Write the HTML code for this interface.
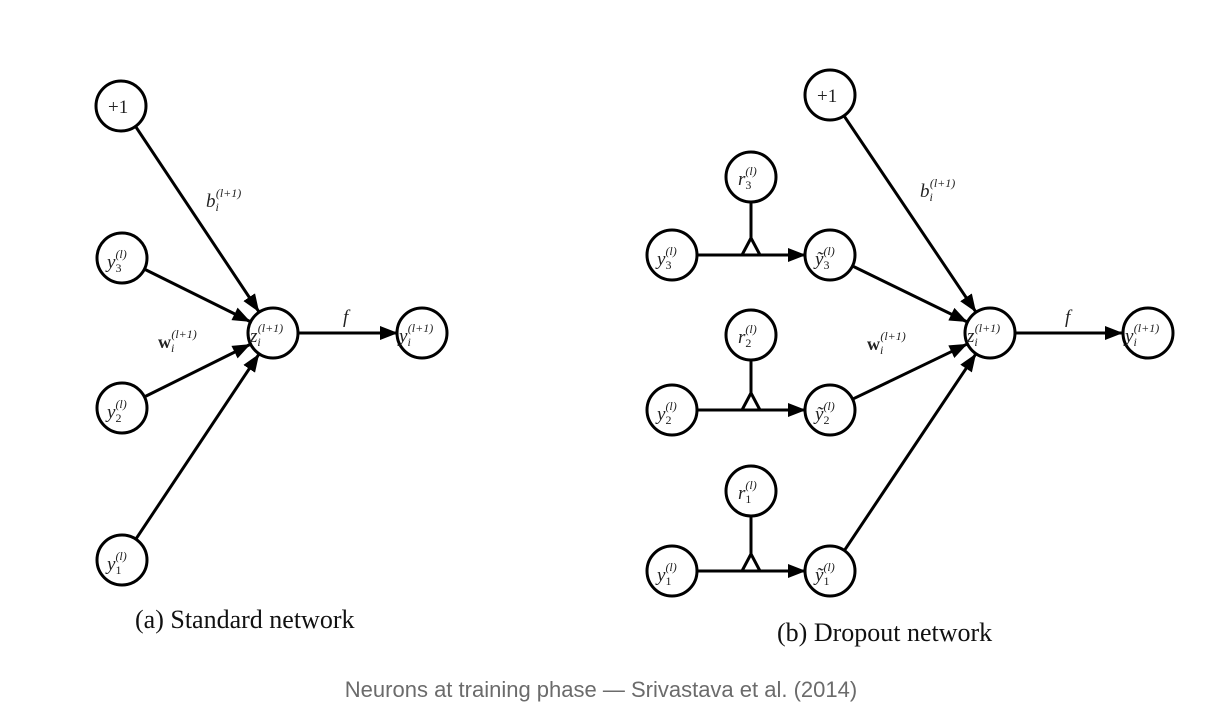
<!DOCTYPE html>
<html><head><meta charset="utf-8"><style>
html,body{margin:0;padding:0;background:#fff;}
svg{display:block;}
.n{fill:#fff;stroke:#000;stroke-width:3;}
.l{stroke:#000;stroke-width:3;fill:none;}
.m{font-family:"Liberation Serif",serif;font-style:italic;fill:#222;}
.cap{font-family:"Liberation Serif",serif;font-size:26px;fill:#111;}
</style></head><body>
<svg width="1216" height="724" viewBox="0 0 1216 724" xmlns="http://www.w3.org/2000/svg">
<defs>
<marker id="a" markerUnits="userSpaceOnUse" markerWidth="18" markerHeight="14" refX="17" refY="7" orient="auto">
<path d="M0,0 L18,7 L0,14 Z" fill="#000"/>
</marker>
</defs>
<!-- Left diagram edges -->
<line class="l" x1="135.8" y1="126.8" x2="258.6" y2="311.3" marker-end="url(#a)"/>
<line class="l" x1="144.4" y1="269.1" x2="249.7" y2="321.4" marker-end="url(#a)"/>
<line class="l" x1="144.4" y1="396.9" x2="249.7" y2="344.6" marker-end="url(#a)"/>
<line class="l" x1="135.8" y1="539.2" x2="258.6" y2="354.7" marker-end="url(#a)"/>
<line class="l" x1="298" y1="333" x2="397" y2="333" marker-end="url(#a)"/>
<circle class="n" cx="121" cy="106" r="25"/>
<circle class="n" cx="122" cy="258" r="25"/>
<circle class="n" cx="122" cy="408" r="25"/>
<circle class="n" cx="122" cy="560" r="25"/>
<circle class="n" cx="273" cy="333" r="25"/>
<circle class="n" cx="422" cy="333" r="25"/>
<text x="108" y="113" font-family="Liberation Serif,serif" font-size="19" fill="#222">+1</text>
<text class="m" x="107" y="268" font-size="19">y<tspan font-size="12" dy="4" font-style="normal">3</tspan><tspan font-size="12" dx="-6" dy="-14">(l)</tspan></text>
<text class="m" x="107" y="418" font-size="19">y<tspan font-size="12" dy="4" font-style="normal">2</tspan><tspan font-size="12" dx="-6" dy="-14">(l)</tspan></text>
<text class="m" x="107" y="570" font-size="19">y<tspan font-size="12" dy="4" font-style="normal">1</tspan><tspan font-size="12" dx="-6" dy="-14">(l)</tspan></text>
<text class="m" x="250" y="342" font-size="19">z<tspan font-size="12" dy="4">i</tspan><tspan font-size="12" dx="-3" dy="-14">(l+1)</tspan></text>
<text class="m" x="399" y="342" font-size="19">y<tspan font-size="12" dy="4">i</tspan><tspan font-size="12" dx="-3" dy="-14">(l+1)</tspan></text>
<text class="m" x="206" y="207" font-size="19">b<tspan font-size="12" dy="4">i</tspan><tspan font-size="12" dx="-3" dy="-14">(l+1)</tspan></text>
<text class="m" x="343" y="323" font-size="19">f</text>
<text x="158" y="348" font-family="Liberation Serif,serif" font-weight="bold" font-size="18" fill="#222">w<tspan font-size="12" font-weight="normal" font-style="italic" dy="4">i</tspan><tspan font-size="12" font-weight="normal" font-style="italic" dx="-3" dy="-14">(l+1)</tspan></text>
<text class="cap" x="135" y="628">(a) Standard network</text>

<!-- Right diagram -->
<line class="l" x1="844" y1="115.8" x2="975.5" y2="311.4" marker-end="url(#a)"/>
<line class="l" x1="852.5" y1="266" x2="966.6" y2="321.6" marker-end="url(#a)"/>
<line class="l" x1="852.5" y1="399.2" x2="966.6" y2="344.3" marker-end="url(#a)"/>
<line class="l" x1="843.9" y1="551.2" x2="975.5" y2="354.4" marker-end="url(#a)"/>
<line class="l" x1="1015" y1="333" x2="1122" y2="333" marker-end="url(#a)"/>
<!-- rows -->
<g>
<line class="l" x1="697" y1="255" x2="805" y2="255" marker-end="url(#a)"/>
<line class="l" x1="751" y1="202" x2="751" y2="238"/>
<path class="l" d="M742,255 L751,238 L760,255"/>
<line class="l" x1="697" y1="410" x2="805" y2="410" marker-end="url(#a)"/>
<line class="l" x1="751" y1="360" x2="751" y2="393"/>
<path class="l" d="M742,410 L751,393 L760,410"/>
<line class="l" x1="697" y1="571" x2="805" y2="571" marker-end="url(#a)"/>
<line class="l" x1="751" y1="517" x2="751" y2="554"/>
<path class="l" d="M742,571 L751,554 L760,571"/>
</g>
<circle class="n" cx="830" cy="95" r="25"/>
<circle class="n" cx="751" cy="177" r="25"/>
<circle class="n" cx="672" cy="255" r="25"/>
<circle class="n" cx="830" cy="255" r="25"/>
<circle class="n" cx="751" cy="335" r="25"/>
<circle class="n" cx="672" cy="410" r="25"/>
<circle class="n" cx="830" cy="410" r="25"/>
<circle class="n" cx="751" cy="491" r="25"/>
<circle class="n" cx="672" cy="571" r="25"/>
<circle class="n" cx="830" cy="571" r="25"/>
<circle class="n" cx="990" cy="333" r="25"/>
<circle class="n" cx="1148" cy="333" r="25"/>
<text x="817" y="102" font-family="Liberation Serif,serif" font-size="19" fill="#222">+1</text>
<text class="m" x="738" y="185" font-size="19">r<tspan font-size="12" dy="4" font-style="normal">3</tspan><tspan font-size="12" dx="-6" dy="-14">(l)</tspan></text>
<text class="m" x="738" y="343" font-size="19">r<tspan font-size="12" dy="4" font-style="normal">2</tspan><tspan font-size="12" dx="-6" dy="-14">(l)</tspan></text>
<text class="m" x="738" y="499" font-size="19">r<tspan font-size="12" dy="4" font-style="normal">1</tspan><tspan font-size="12" dx="-6" dy="-14">(l)</tspan></text>
<text class="m" x="657" y="265" font-size="19">y<tspan font-size="12" dy="4" font-style="normal">3</tspan><tspan font-size="12" dx="-6" dy="-14">(l)</tspan></text>
<text class="m" x="657" y="420" font-size="19">y<tspan font-size="12" dy="4" font-style="normal">2</tspan><tspan font-size="12" dx="-6" dy="-14">(l)</tspan></text>
<text class="m" x="657" y="581" font-size="19">y<tspan font-size="12" dy="4" font-style="normal">1</tspan><tspan font-size="12" dx="-6" dy="-14">(l)</tspan></text>
<text class="m" x="815" y="265" font-size="19">ỹ<tspan font-size="12" dy="4" font-style="normal">3</tspan><tspan font-size="12" dx="-6" dy="-14">(l)</tspan></text>
<text class="m" x="815" y="420" font-size="19">ỹ<tspan font-size="12" dy="4" font-style="normal">2</tspan><tspan font-size="12" dx="-6" dy="-14">(l)</tspan></text>
<text class="m" x="815" y="581" font-size="19">ỹ<tspan font-size="12" dy="4" font-style="normal">1</tspan><tspan font-size="12" dx="-6" dy="-14">(l)</tspan></text>
<text class="m" x="967" y="342" font-size="19">z<tspan font-size="12" dy="4">i</tspan><tspan font-size="12" dx="-3" dy="-14">(l+1)</tspan></text>
<text class="m" x="1125" y="342" font-size="19">y<tspan font-size="12" dy="4">i</tspan><tspan font-size="12" dx="-3" dy="-14">(l+1)</tspan></text>
<text class="m" x="920" y="197" font-size="19">b<tspan font-size="12" dy="4">i</tspan><tspan font-size="12" dx="-3" dy="-14">(l+1)</tspan></text>
<text class="m" x="1065" y="323" font-size="19">f</text>
<text x="867" y="350" font-family="Liberation Serif,serif" font-weight="bold" font-size="18" fill="#222">w<tspan font-size="12" font-weight="normal" font-style="italic" dy="4">i</tspan><tspan font-size="12" font-weight="normal" font-style="italic" dx="-3" dy="-14">(l+1)</tspan></text>
<text class="cap" x="777" y="641">(b) Dropout network</text>

<text x="601" y="697" text-anchor="middle" font-family="Liberation Sans,sans-serif" font-size="22" fill="#6b6b6b">Neurons at training phase — Srivastava et al. (2014)</text>
</svg>
</body></html>
